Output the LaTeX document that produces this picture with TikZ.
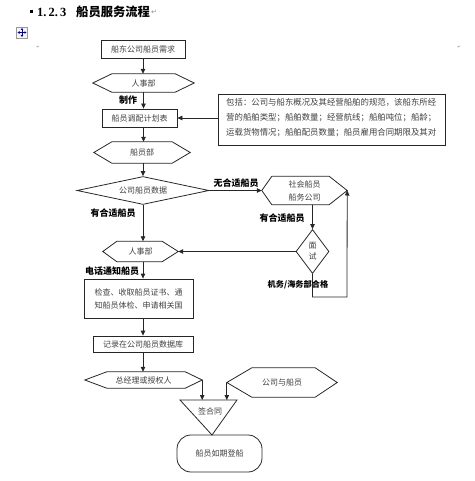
\documentclass[tikz,border=0pt]{standalone}
\usepackage{fontspec}
\setmainfont{Noto Sans CJK SC}
\newfontfamily\latserif{Liberation Serif}
\newfontfamily\dejavu{DejaVu Sans}
\usetikzlibrary{arrows.meta,shapes.geometric,calc}
\tikzset{
  ln/.style={line width=0.8pt, draw=black!85},
  arr/.style={ln, -{Triangle[length=5pt,width=4.5pt]}},
  txt/.style={font=\fontsize{8}{13}\selectfont, text=black!75},
  boxn/.style={rectangle, ln, inner sep=0pt, txt},
  hexin/.style={rectangle, inner sep=0pt, txt},
  lab/.style={font=\fontsize{9}{10}\selectfont\bfseries, inner sep=0pt, text=black},
  pmark/.style={font=\dejavu\fontsize{4}{4}\selectfont, text=black!55, inner sep=0pt}
}
\newcommand\hexpath[3]{\draw[ln] (#1.west) -- ($(#1.north west)+(#2pt,0pt)$) -- ($(#1.north east)+(-#3pt,0pt)$) -- (#1.east) -- ($(#1.south east)+(-#3pt,0pt)$) -- ($(#1.south west)+(#2pt,0pt)$) -- cycle;}
\begin{document}
\begin{tikzpicture}[x=1pt,y=-1pt]
\useasboundingbox (0,0) rectangle (474,481);
% title
\node[fill=black, minimum size=3pt, inner sep=0pt] (bul) at (31,12) {};
\node[anchor=west, inner sep=0pt, font=\latserif\bfseries\fontsize{12.5}{14}\selectfont] (tnum) at (37,12) {1.\,2.\,3};
\node[anchor=west, inner sep=0pt, font=\bfseries\fontsize{12.3}{14}\selectfont] (ttxt) at (76,12) {船员服务流程};
\node[anchor=west, font=\dejavu\fontsize{7}{7}\selectfont, text=black!45, inner sep=0pt] (tpm) at (151,12) {↵};
% move icon
\node[draw=black!40, fill=black!4, minimum width=11pt, minimum height=11pt, inner sep=0pt] (mv) at (22,32.5) {};
\draw[blue!70!black, line width=0.7pt, {Triangle[length=2pt,width=2.5pt]}-{Triangle[length=2pt,width=2.5pt]}] ($(mv.center)+(-4.5pt,0pt)$) -- ($(mv.center)+(4.5pt,0pt)$);
\draw[blue!70!black, line width=0.7pt, {Triangle[length=2pt,width=2.5pt]}-{Triangle[length=2pt,width=2.5pt]}] ($(mv.center)+(0pt,-4.5pt)$) -- ($(mv.center)+(0pt,4.5pt)$);
\node[pmark] (pm1) at (38,47) {↵};
\node[pmark] (pm2) at (459,47) {↵};
% nodes
\node[boxn, draw, minimum width=84pt, minimum height=18pt] (need) at (143,49) {船东公司船员需求};
\node[hexin, minimum width=101pt, minimum height=18pt] (hr1) at (143.5,83) {人事部};
\hexpath{hr1}{19}{19}
\node[boxn, draw, minimum width=75pt, minimum height=18pt] (plan) at (139.5,118) {船员调配计划表};
\node[boxn, draw, minimum width=227pt, minimum height=51pt, anchor=north west] (note) at (218,94) {};
\node[anchor=north west, inner sep=0pt, align=left, text=black!75, font=\fontsize{8.4}{15}\selectfont] (notetext) at (226,98) {包括：公司与船东概况及其经营船舶的规范，该船东所经\\营的船舶类型；船舶数量；经营航线；船舶吨位；船龄；\\运载货物情况；船舶配员数量；船员雇用合同期限及其对};
\node[hexin, minimum width=96pt, minimum height=21pt] (crew) at (142,152.5) {船员部};
\hexpath{crew}{18}{18}
\node[diamond, ln, draw, aspect=4.7, minimum width=132pt, minimum height=28pt, inner sep=0pt, txt] (db) at (143,190.5) {公司船员数据};
\node[hexin, minimum width=85pt, minimum height=28pt, align=center] (soc) at (304.5,190.5) {社会船员\\船务公司};
\hexpath{soc}{10}{18}
\node[diamond, ln, draw, minimum width=33pt, minimum height=44pt, inner sep=0pt, txt, align=center, font=\fontsize{8}{11}\selectfont] (iv) at (312.5,251.5) {面\\试};
\node[hexin, minimum width=75pt, minimum height=20pt] (hr2) at (140.5,251.5) {人事部};
\hexpath{hr2}{14}{16}
\node[boxn, draw, minimum width=109pt, minimum height=39pt, align=center] (cert) at (138.5,298.5) {检查、收取船员证书、通\\知船员体检、申请相关国};
\node[boxn, draw, minimum width=100pt, minimum height=16pt] (rec) at (143,344) {记录在公司船员数据库};
\node[hexin, minimum width=117pt, minimum height=16pt] (gm) at (143.5,380) {总经理或授权人};
\hexpath{gm}{22}{17}
\node[hexin, minimum width=110pt, minimum height=29pt] (cs) at (282,382.5) {公司与船员};
\hexpath{cs}{25}{22}
\coordinate (tl) at (180,400);
\coordinate (tr) at (237,400);
\coordinate (ta) at (212,435);
\draw[ln] (tl) -- (tr) -- (ta) -- cycle;
\node[txt, inner sep=0pt] (sign) at (210,411) {签合同};
\node[boxn, draw, rounded corners=14pt, minimum width=85pt, minimum height=37pt] (board) at (219.5,453.5) {船员如期登船};
% labels
\node[lab] (make) at (128,100) {制作};
\node[lab] (nofit) at (236,183) {无合适船员};
\node[lab] (fit1) at (113,213) {有合适船员};
\node[lab] (fit2) at (282,218) {有合适船员};
\node[lab] (call) at (112,271) {电话通知船员};
\coordinate (c2) at (347,297);
% connectors
\draw[arr] (need.south) -- (need.south |- hr1.north);
\draw[arr] (hr1.south) -- (hr1.south |- plan.north);
\draw[arr] (note.west |- plan.east) -- (plan.east);
\draw[arr] (hr1.south |- plan.south) -- (hr1.south |- crew.north);
\draw[arr] (db.north |- crew.south) -- (db.north);
\draw[arr] (db.east) -- (soc.west);
\draw[arr] (db.south) -- (db.south |- hr2.north);
\draw[arr] (iv.north |- soc.south) -- (iv.north);
\draw[arr] (iv.west) -- (hr2.east);
\draw[arr] (iv.south) |- (c2) -- (soc.east);
\node[lab, font=\fontsize{8.2}{10}\selectfont\bfseries] (ok) at (298,285) {机务/海务部合格};
\draw[arr] (db.south |- hr2.south) -- (db.south |- cert.north);
\draw[arr] (db.south |- cert.south) -- (db.south |- rec.north);
\draw[arr] (rec.south) -- (rec.south |- gm.north);
\draw[arr] (gm.east) -- (gm.east |- tl);
\draw[arr] (cs.west) -- (cs.west |- tl);
\end{tikzpicture}
\end{document}
